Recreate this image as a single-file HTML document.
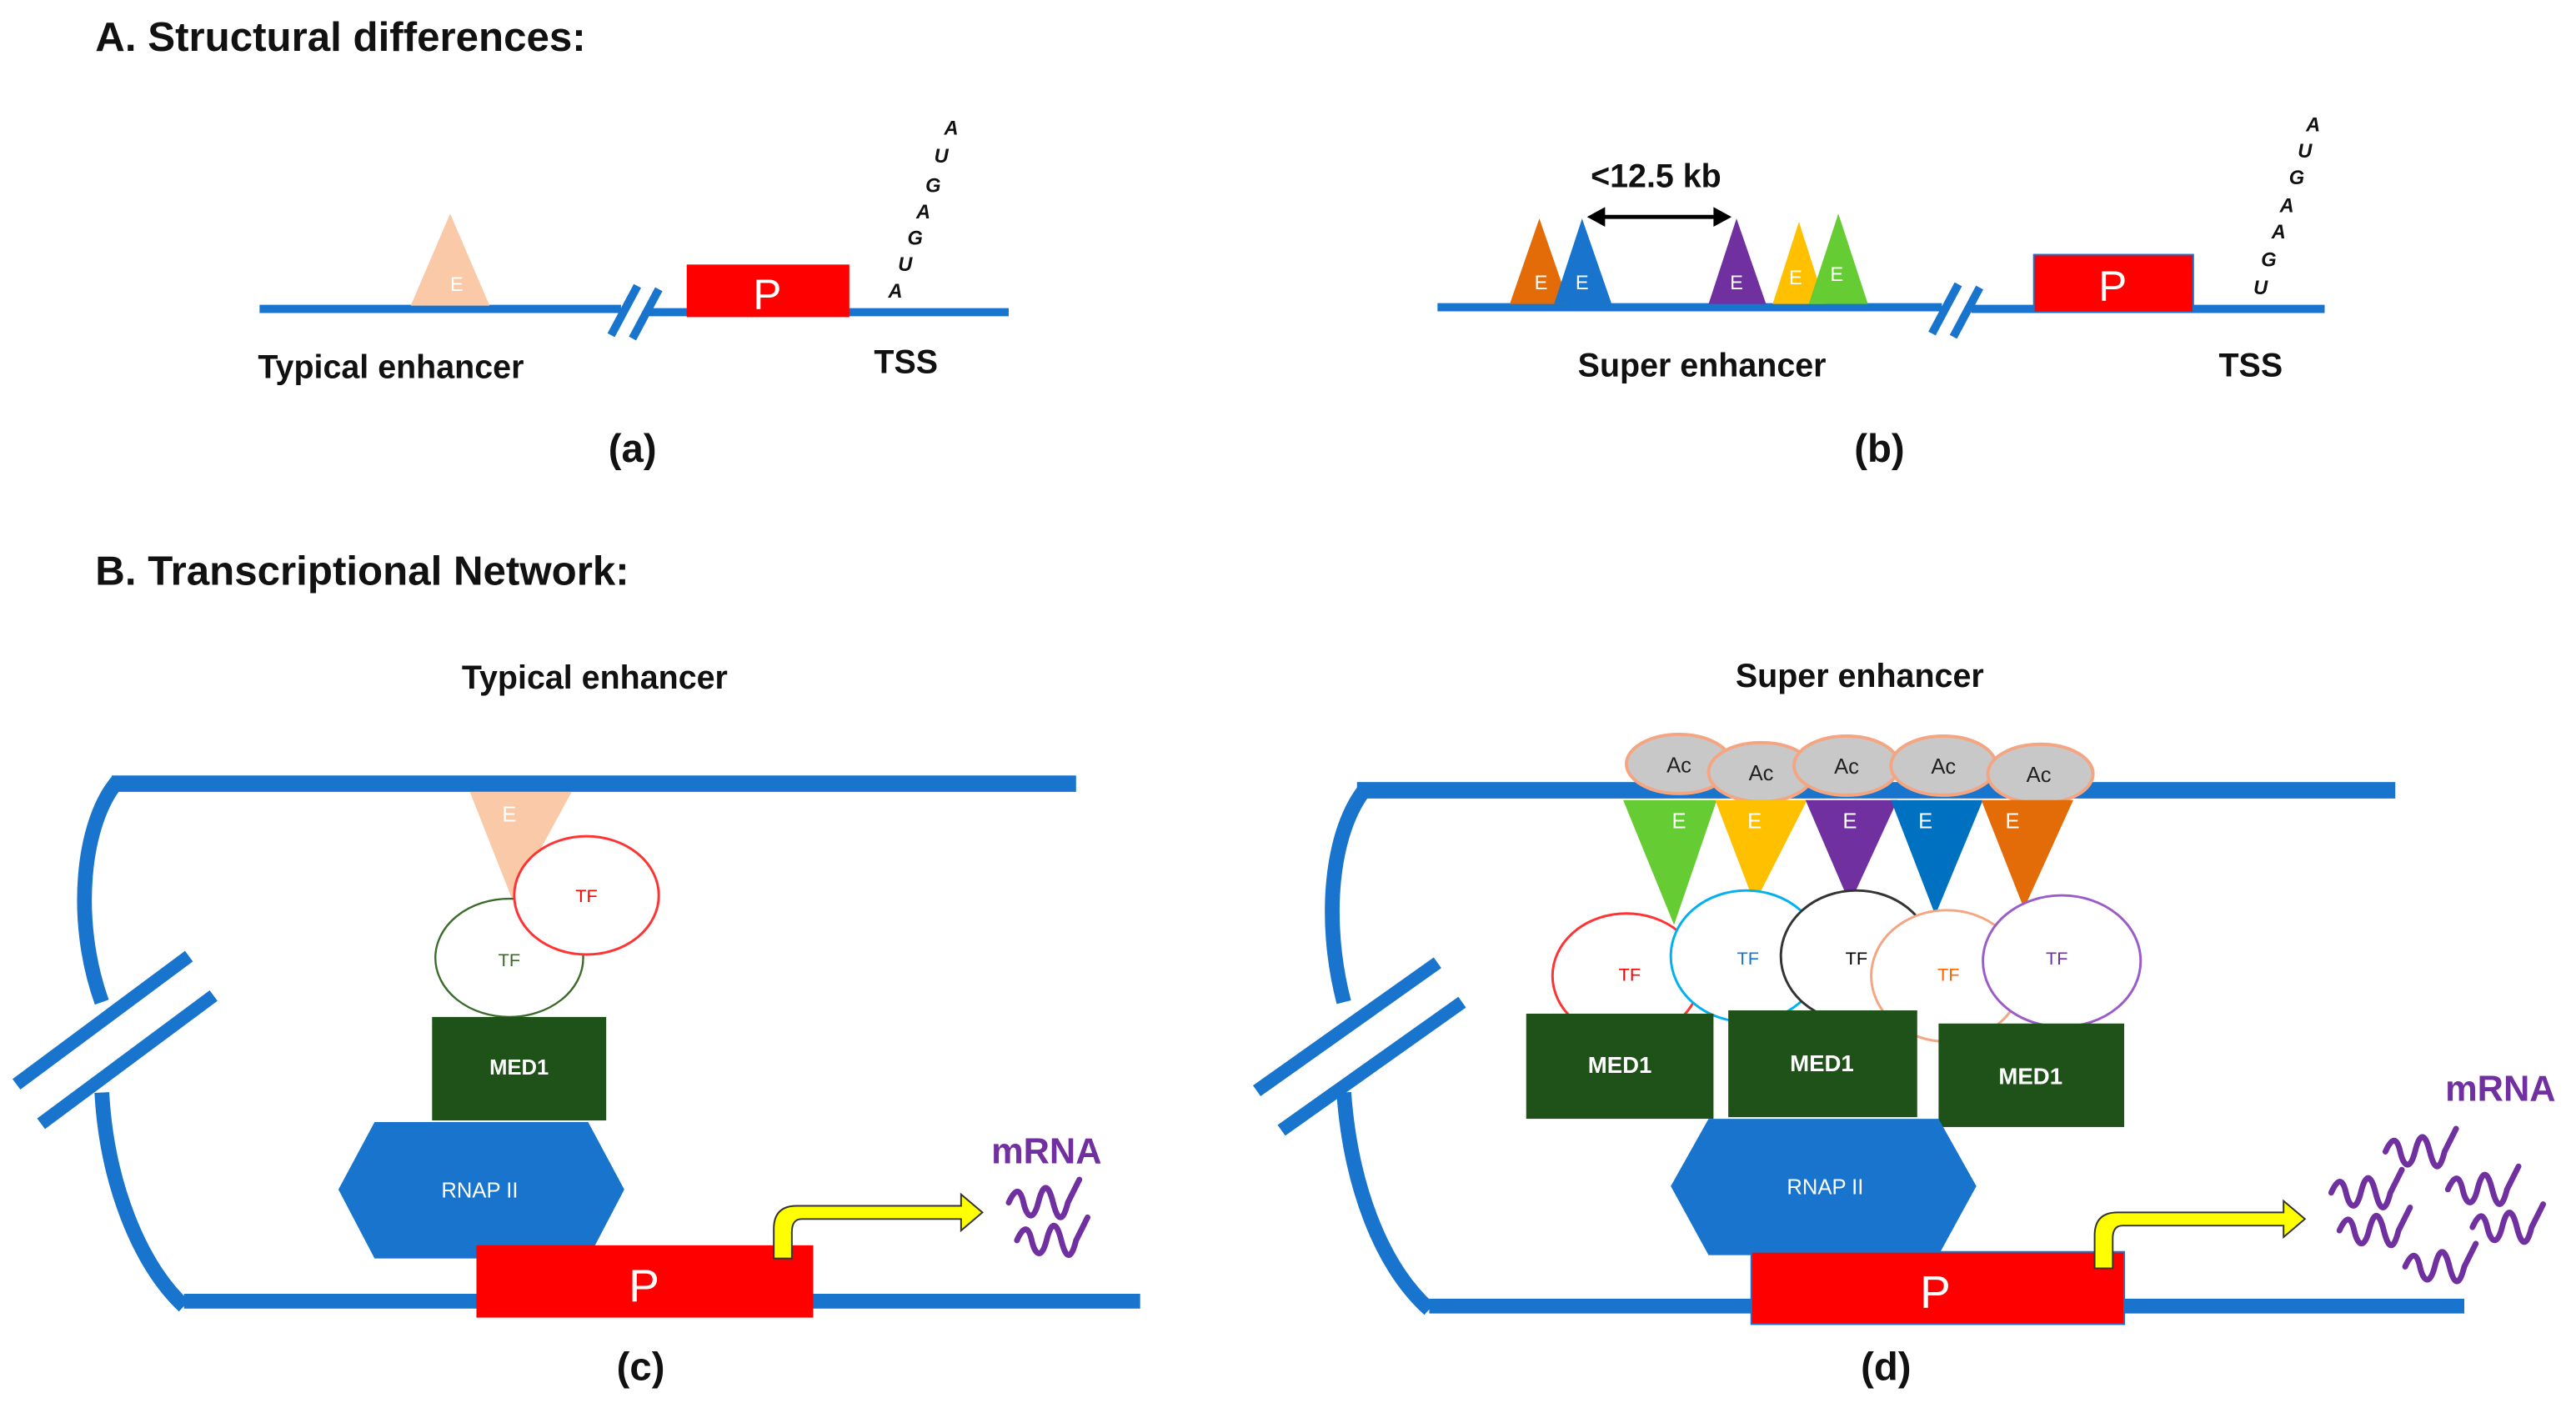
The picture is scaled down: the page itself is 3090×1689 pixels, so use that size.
<!DOCTYPE html>
<html><head><meta charset="utf-8"><style>html,body{margin:0;padding:0;background:#fff}svg{display:block}</style></head>
<body>
<svg width="3090" height="1689" viewBox="0 0 1568 857" xmlns="http://www.w3.org/2000/svg" font-family="Liberation Sans, sans-serif">
<defs>
<path id="sq" d="M0,-2 c4,-9 7,-9 9,0 s6,12 9,0 s6,-12 9,0 s6,12 9,0 l7,-14" fill="none" stroke="#7030a0" stroke-width="3.5" stroke-linecap="round"/>
</defs>
<rect width="1568" height="857" fill="#fff"/>
<g font-weight="bold" fill="#111">
<text x="58" y="31" font-size="25">A. Structural differences:</text>
<text x="58" y="356" font-size="25">B. Transcriptional Network:</text>
<text x="157" y="230" font-size="20">Typical enhancer</text>
<text x="532" y="227" font-size="20">TSS</text>
<text x="385" y="281" font-size="24" text-anchor="middle">(a)</text>
<text x="1036" y="229" font-size="20" text-anchor="middle">Super enhancer</text>
<text x="1370" y="229" font-size="20" text-anchor="middle">TSS</text>
<text x="1144" y="281" font-size="24" text-anchor="middle">(b)</text>
<text x="1008" y="114" font-size="20" text-anchor="middle">&lt;12.5 kb</text>
<text x="362" y="419" font-size="20" text-anchor="middle">Typical enhancer</text>
<text x="1132" y="418" font-size="20" text-anchor="middle">Super enhancer</text>
<text x="390" y="840" font-size="24" text-anchor="middle">(c)</text>
<text x="1148" y="840" font-size="24" text-anchor="middle">(d)</text>
</g>
<g stroke="#1874cd" stroke-width="5">
<line x1="158" y1="188" x2="378" y2="188"/><line x1="395" y1="190" x2="614" y2="190"/>
<line x1="372" y1="204" x2="388" y2="174"/><line x1="385" y1="206" x2="401" y2="176"/>
<line x1="875" y1="187" x2="1182" y2="187"/><line x1="1200" y1="188" x2="1415" y2="188"/>
<line x1="1176" y1="203" x2="1192" y2="173"/><line x1="1189" y1="205" x2="1205" y2="175"/>
</g>
<polygon points="250,186 274,130 298,186" fill="#f9c9a8"/>
<text x="278" y="177" font-size="12" fill="#fff" text-anchor="middle">E</text>
<rect x="418" y="161" width="99" height="32" fill="#f00"/>
<text x="467" y="188" font-size="26" fill="#fff" text-anchor="middle">P</text>
<g font-size="12" font-style="italic" font-weight="bold" fill="#111" text-anchor="middle">
<text x="545" y="181">A</text><text x="551" y="165">U</text><text x="557" y="149">G</text><text x="562" y="133">A</text><text x="568" y="117">G</text><text x="573" y="99">U</text><text x="579" y="82">A</text>
<text x="1376" y="179">U</text><text x="1381" y="162">G</text><text x="1387" y="145">A</text><text x="1392" y="129">A</text><text x="1398" y="112">G</text><text x="1403" y="96">U</text><text x="1408" y="80">A</text>
</g>
<polygon points="919,185 937,133 955,185" fill="#e36c09"/>
<polygon points="946,185 963,133 981,185" fill="#1874cd"/>
<polygon points="1040,185 1057,133 1075,185" fill="#7030a0"/>
<polygon points="1079,185 1095,135 1111,185" fill="#ffc000"/>
<polygon points="1101,185 1119,130 1137,185" fill="#66cc33"/>
<g font-size="12" fill="#fff" text-anchor="middle">
<text x="938" y="176">E</text><text x="963" y="176">E</text><text x="1057" y="176">E</text><text x="1093" y="173">E</text><text x="1118" y="171">E</text>
</g>
<line x1="975" y1="132" x2="1045" y2="132" stroke="#000" stroke-width="2.5"/>
<polygon points="966,132 977,126 977,138"/><polygon points="1054,132 1043,126 1043,138"/>
<rect x="1238" y="155" width="97" height="35" fill="#f00" stroke="#1874cd" stroke-width="1"/>
<text x="1286" y="183" font-size="26" fill="#fff" text-anchor="middle">P</text>
<g stroke="#1874cd" fill="none" stroke-linecap="butt">
<line x1="68" y1="477" x2="655" y2="477" stroke-width="10"/>
<line x1="112" y1="792" x2="694" y2="792" stroke-width="9"/>
<path d="M72,475 C50,500 44,560 62,610" stroke-width="9"/>
<path d="M62,665 C65,720 85,770 112,795" stroke-width="9"/>
<line x1="10" y1="660" x2="115" y2="582" stroke-width="8"/>
<line x1="25" y1="684" x2="130" y2="606" stroke-width="8"/>
<line x1="826" y1="481" x2="1458" y2="481" stroke-width="10"/>
<line x1="870" y1="795" x2="1500" y2="795" stroke-width="9"/>
<path d="M832,479 C810,505 805,560 818,610" stroke-width="9"/>
<path d="M818,665 C822,720 840,770 870,797" stroke-width="9"/>
<line x1="765" y1="664" x2="875" y2="586" stroke-width="8"/>
<line x1="780" y1="688" x2="890" y2="610" stroke-width="8"/>
</g>
<polygon points="286,482 348,482 312,548" fill="#f9c9a8"/>
<text x="310" y="500" font-size="13" fill="#fff" text-anchor="middle">E</text>
<ellipse cx="310" cy="583" rx="45" ry="36" fill="none" stroke="#3a6b2a" stroke-width="1.2"/>
<ellipse cx="357" cy="545" rx="44" ry="36" fill="#fff" stroke="#f33" stroke-width="1.5"/>
<text x="357" y="549" font-size="11" fill="#f00" text-anchor="middle">TF</text>
<text x="310" y="588" font-size="11" fill="#3a6b2a" text-anchor="middle">TF</text>
<rect x="263" y="619" width="106" height="63" fill="#1e5218"/>
<text x="316" y="654" font-size="13" fill="#fff" font-weight="bold" text-anchor="middle">MED1</text>
<polygon points="206,724 228,683 358,683 380,724 358,766 228,766" fill="#1874cd"/>
<text x="292" y="729" font-size="13" fill="#fff" text-anchor="middle">RNAP II</text>
<rect x="290" y="758" width="205" height="44" fill="#f00"/>
<text x="392" y="792" font-size="28" fill="#fff" text-anchor="middle">P</text>
<path d="M471,766 V748 Q471,734 485,734 H585 V727 L598,738 L585,749 V742 H488 Q482,742 482,750 V766 Z" fill="#ffff00" stroke="#333" stroke-width="1"/>
<text x="637" y="708" font-size="22" font-weight="bold" fill="#7030a0" text-anchor="middle">mRNA</text>
<use href="#sq" x="614" y="734"/><use href="#sq" x="619" y="757"/>
<g fill="#c8c8c8" stroke="#f4a582" stroke-width="2">
<ellipse cx="1022" cy="465" rx="32" ry="18"/><ellipse cx="1072" cy="470" rx="32" ry="18"/><ellipse cx="1124" cy="466" rx="32" ry="18"/><ellipse cx="1183" cy="466" rx="32" ry="18"/><ellipse cx="1242" cy="471" rx="32" ry="18"/>
</g>
<g font-size="13" fill="#222" text-anchor="middle">
<text x="1022" y="470">Ac</text><text x="1072" y="475">Ac</text><text x="1124" y="471">Ac</text><text x="1183" y="471">Ac</text><text x="1241" y="476">Ac</text>
</g>
<polygon points="988,487 1045,487 1019,563" fill="#66cc33"/>
<polygon points="1044,487 1100,487 1068,550" fill="#ffc000"/>
<polygon points="1099,487 1155,487 1126,550" fill="#7030a0"/>
<polygon points="1151,487 1207,487 1178,557" fill="#0070c0"/>
<polygon points="1206,487 1262,487 1232,553" fill="#e36c09"/>
<g font-size="13" fill="#fff" text-anchor="middle">
<text x="1022" y="504">E</text><text x="1068" y="504">E</text><text x="1126" y="504">E</text><text x="1172" y="504">E</text><text x="1225" y="504">E</text>
</g>
<g fill="#fff" stroke-width="1.5">
<ellipse cx="990" cy="594" rx="45" ry="38" stroke="#f33"/>
<ellipse cx="1063" cy="582" rx="46" ry="40" stroke="#00b0f0"/>
<ellipse cx="1130" cy="582" rx="46" ry="40" stroke="#333"/>
<ellipse cx="1185" cy="594" rx="46" ry="40" stroke="#f4a582"/>
<ellipse cx="1255" cy="585" rx="48" ry="40" stroke="#9a5cc8"/>
</g>
<g font-size="11" text-anchor="middle">
<text x="992" y="597" fill="#f00">TF</text><text x="1064" y="587" fill="#1874cd">TF</text><text x="1130" y="587" fill="#000">TF</text><text x="1186" y="597" fill="#f60">TF</text><text x="1252" y="587" fill="#7030a0">TF</text>
</g>
<rect x="929" y="617" width="114" height="64" fill="#1e5218"/>
<rect x="1052" y="615" width="115" height="65" fill="#1e5218"/>
<rect x="1180" y="623" width="113" height="63" fill="#1e5218"/>
<g font-size="14" fill="#fff" font-weight="bold" text-anchor="middle">
<text x="986" y="653">MED1</text><text x="1109" y="652">MED1</text><text x="1236" y="660">MED1</text>
</g>
<polygon points="1017,722 1040,681 1180,681 1203,722 1180,764 1040,764" fill="#1874cd"/>
<text x="1111" y="727" font-size="13" fill="#fff" text-anchor="middle">RNAP II</text>
<rect x="1066" y="762" width="227" height="44" fill="#f00" stroke="#1874cd" stroke-width="1"/>
<text x="1178" y="796" font-size="28" fill="#fff" text-anchor="middle">P</text>
<path d="M1275,772 V752 Q1275,738 1289,738 H1390 V731 L1403,742 L1390,753 V746 H1292 Q1286,746 1286,754 V772 Z" fill="#ffff00" stroke="#333" stroke-width="1"/>
<text x="1522" y="670" font-size="22" font-weight="bold" fill="#7030a0" text-anchor="middle">mRNA</text>
<use href="#sq" x="1452" y="703"/><use href="#sq" x="1419" y="728"/><use href="#sq" x="1490" y="726"/>
<use href="#sq" x="1424" y="751"/><use href="#sq" x="1505" y="749"/><use href="#sq" x="1464" y="773"/>
</svg>
</body></html>
